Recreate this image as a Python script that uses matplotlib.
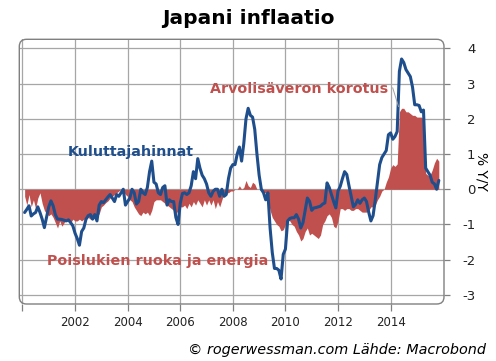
import numpy as np
import matplotlib
matplotlib.use("Agg")
import matplotlib.pyplot as plt
from matplotlib.patches import FancyBboxPatch

# ---------------- data (monthly, Jan 2000 - Oct 2015) ----------------
start_year = 2000
headline_cpi = [
    -0.66, -0.57, -0.47, -0.76, -0.70, -0.66, -0.50, -0.66, -0.85, -1.09, -0.80, -0.50,  # 2000
    -0.33, -0.47, -0.72, -0.85, -0.85, -0.86, -0.88, -0.90, -0.87, -0.95, -1.04, -1.25,  # 2001
    -1.40, -1.59, -1.20, -1.10, -0.85, -0.75, -0.72, -0.85, -0.72, -0.90, -0.45, -0.35,  # 2002
    -0.38, -0.30, -0.22, -0.15, -0.25, -0.35, -0.15, -0.20, -0.10, 0.00, -0.45, -0.35,   # 2003
    -0.25, 0.00, -0.10, -0.42, -0.35, 0.00, -0.10, -0.15, 0.05, 0.50, 0.80, 0.20,        # 2004
    0.15, -0.10, -0.15, 0.05, 0.10, -0.45, -0.30, -0.35, -0.35, -0.80, -1.00, -0.40,     # 2005
    -0.12, -0.10, -0.15, -0.10, 0.10, 0.50, 0.30, 0.87, 0.60, 0.40, 0.30, 0.15,          # 2006
    -0.10, -0.20, -0.06, 0.00, 0.00, -0.20, 0.00, -0.20, -0.15, 0.30, 0.60, 0.70,        # 2007
    0.70, 1.00, 1.20, 0.80, 1.30, 2.00, 2.30, 2.10, 2.05, 1.70, 1.00, 0.40,              # 2008
    0.00, -0.10, -0.30, -0.10, -1.10, -1.80, -2.25, -2.25, -2.30, -2.55, -1.85, -1.70,   # 2009
    -0.90, -0.83, -0.81, -0.81, -0.72, -0.85, -1.10, -0.95, -0.60, -0.25, -0.34, -0.60,  # 2010
    -0.53, -0.52, -0.50, -0.48, -0.42, -0.39, 0.18, 0.05, -0.15, -0.35, -0.53, -0.05,    # 2011
    0.08, 0.30, 0.50, 0.42, 0.10, -0.20, -0.50, -0.43, -0.30, -0.40, -0.30, -0.25,       # 2012
    -0.35, -0.65, -0.90, -0.75, -0.30, 0.20, 0.70, 0.90, 1.00, 1.10, 1.55, 1.60,         # 2013
    1.42, 1.50, 1.64, 3.35, 3.70, 3.60, 3.40, 3.30, 3.20, 2.90, 2.40, 2.40,              # 2014
    2.38, 2.20, 2.25, 0.60, 0.50, 0.40, 0.20, 0.15, 0.00, 0.25,                          # 2015
]
core_cpi = [
    -0.20, -0.45, -0.15, -0.50, -0.30, -0.55, -0.25, -0.10, -0.40, -0.60, -0.70, -0.75,  # 2000
    -0.70, -0.80, -0.95, -1.10, -0.90, -1.05, -0.95, -0.85, -0.90, -0.95, -0.85, -0.90,  # 2001
    -0.90, -0.85, -0.90, -0.85, -0.85, -0.80, -0.85, -0.85, -0.80, -0.75, -0.70, -0.50,  # 2002
    -0.45, -0.38, -0.33, -0.25, -0.20, -0.15, -0.10, -0.05, 0.00, -0.05, -0.15, -0.20,   # 2003
    -0.30, -0.35, -0.50, -0.60, -0.70, -0.75, -0.65, -0.70, -0.65, -0.75, -0.60, -0.35,  # 2004
    -0.30, -0.30, -0.30, -0.35, -0.40, -0.45, -0.50, -0.55, -0.60, -0.70, -0.60, -0.50,  # 2005
    -0.50, -0.45, -0.55, -0.40, -0.50, -0.35, -0.45, -0.30, -0.40, -0.50, -0.30, -0.45,  # 2006
    -0.30, -0.45, -0.30, -0.55, -0.35, -0.50, -0.30, -0.10, -0.10, -0.10, -0.05, -0.05,  # 2007
    0.00, 0.00, 0.10, 0.00, 0.05, 0.25, 0.10, 0.05, 0.20, 0.15, 0.00, 0.00,              # 2008
    -0.05, -0.10, -0.10, -0.30, -0.60, -0.80, -0.90, -1.00, -1.05, -1.18, -1.15, -1.00,  # 2009
    -0.85, -0.90, -1.00, -1.05, -1.20, -1.30, -1.47, -1.40, -1.20, -1.10, -1.30, -1.25,  # 2010
    -1.30, -1.35, -1.40, -1.30, -1.00, -0.90, -0.75, -0.70, -0.80, -1.05, -1.10, -0.90,  # 2011
    -0.55, -0.55, -0.60, -0.55, -0.55, -0.60, -0.60, -0.55, -0.55, -0.60, -0.65, -0.65,  # 2012
    -0.65, -0.60, -0.50, -0.50, -0.45, -0.30, -0.20, -0.05, 0.00, 0.20, 0.35, 0.60,      # 2013
    0.70, 0.65, 0.72, 2.20, 2.30, 2.30, 2.20, 2.20, 2.15, 2.10, 2.10, 2.05,              # 2014
    2.05, 2.05, 2.00, 0.45, 0.40, 0.40, 0.55, 0.75, 0.88, 0.80,                          # 2015
]
x_ticks = [2000, 2002, 2004, 2006, 2008, 2010, 2012, 2014]
x_tick_labels = ["", "2002", "2004", "2006", "2008", "2010", "2012", "2014"]
y_ticks = [-3, -2, -1, 0, 1, 2, 3, 4]

title = "Japani inflaatio"
label_headline = "Kuluttajahinnat"
label_core = "Poislukien ruoka ja energia"
label_vat = "Arvolisäveron korotus"
y_label = "% Y/Y"
footer = "© rogerwessman.com Lähde: Macrobond"

# ---------------- styling ----------------
BLUE = "#1F4E8C"
RED = "#C0504D"
GRID = "#a6a6a6"
FRAME = "#808080"

plt.rcParams["font.family"] = ["DejaVu Sans"]

# month-end positions
years = start_year + (np.arange(len(headline_cpi)) + 1) / 12.0
core_years = start_year + (np.arange(len(core_cpi)) + 1) / 12.0

fig = plt.figure(figsize=(4.96, 3.61), dpi=100)
ax_l, ax_r, ax_t, ax_b = 19.3 / 496, 444 / 496, 1 - 39.3 / 361, 1 - 304 / 361
ax = fig.add_axes([ax_l, ax_b, ax_r - ax_l, ax_t - ax_b])

ax.fill_between(core_years, 0, core_cpi, color=RED, lw=0, zorder=2)
ax.plot(years, headline_cpi, color=BLUE, lw=2.2, zorder=3,
        solid_joinstyle="round", solid_capstyle="round")

ax.set_xlim(1999.88, 2016.03)
ax.set_ylim(-3.26, 4.26)

ax.set_xticks(x_ticks)
ax.set_xticklabels(x_tick_labels)
ax.set_yticks(y_ticks)
ax.set_yticklabels([str(v) for v in y_ticks])
ax.grid(True, color=GRID, lw=0.9)
ax.set_axisbelow(True)

for s in ax.spines.values():
    s.set_visible(False)

ax.yaxis.tick_right()
ax.tick_params(axis="x", direction="out", length=5, width=0.9, color=FRAME,
               labelsize=8.5, pad=4, labelcolor="#222222")
ax.tick_params(axis="y", direction="out", length=4, width=0.9, color=FRAME,
               labelsize=9.5, pad=18.5, labelcolor="#222222", left=False, right=True)
for lab in ax.get_yticklabels():
    lab.set_horizontalalignment("right")

w_px, h_px = 444 - 19.3, 304 - 39.3
frame = FancyBboxPatch((0, 0), 1, 1, boxstyle="round,pad=0,rounding_size=0.017",
                       mutation_aspect=w_px / h_px, transform=ax.transAxes,
                       fill=False, ec=FRAME, lw=1.0, clip_on=False, zorder=6)
ax.add_patch(frame)

# annotations
ax.text(2001.73, 0.94, label_headline, color=BLUE, fontsize=10.3, fontweight="bold",
        ha="left", va="baseline", zorder=5)
ax.text(2007.13, 2.74, label_vat, color=RED, fontsize=10.3, fontweight="bold",
        ha="left", va="baseline", zorder=5)
ax.text(2000.93, -2.15, label_core, color=RED, fontsize=10.3, fontweight="bold",
        ha="left", va="baseline", zorder=5)
ax.plot([2014.08, 2014.30], [2.88, 2.35], color="#a0a0a0", lw=0.7, zorder=4)

fig.text(0.5, 1 - 18 / 361, title, fontsize=14.5, fontweight="bold",
         ha="center", va="center")
fig.text(482 / 496, 1 - 171.5 / 361, y_label, fontsize=10, rotation=270,
         ha="center", va="center")
fig.text(486 / 496, 1 - 350 / 361, footer, fontsize=10.4, style="italic",
         ha="right", va="center")

fig.savefig("out.png", dpi=100)
